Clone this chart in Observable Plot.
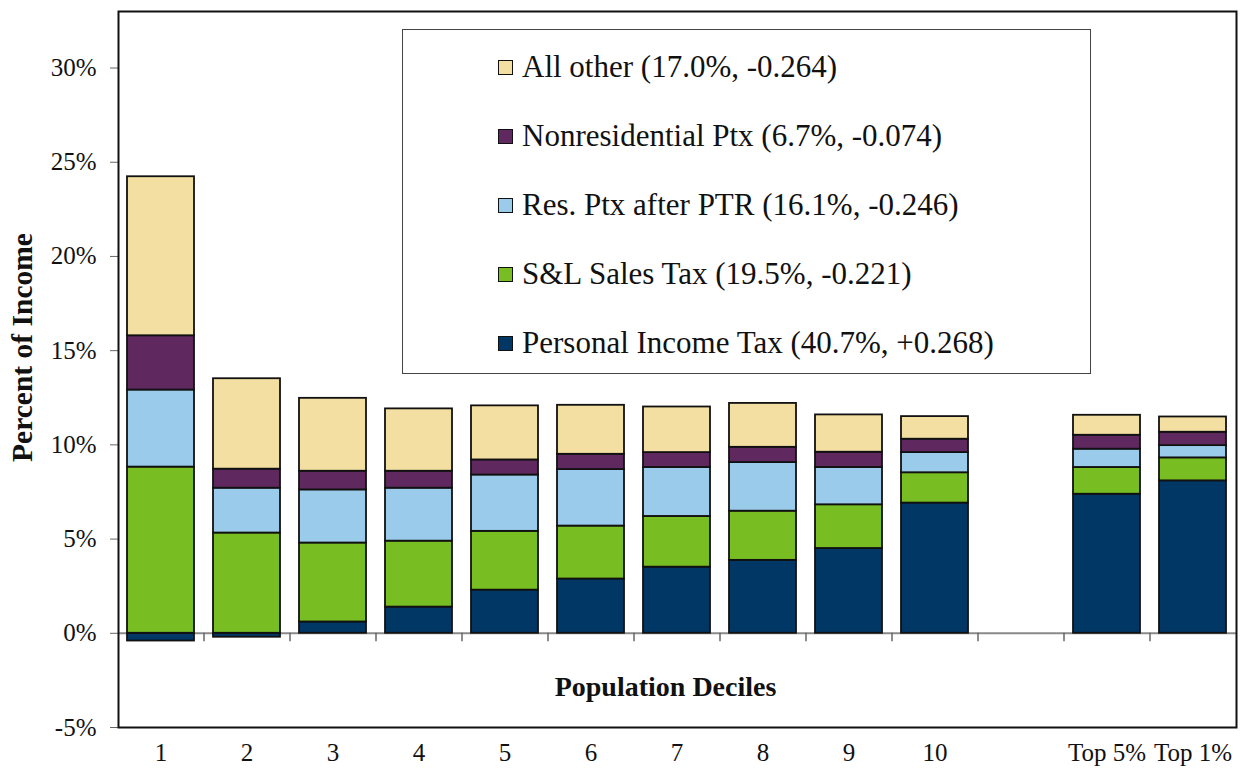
<!DOCTYPE html>
<html>
<head>
<meta charset="utf-8">
<script src="https://cdn.jsdelivr.net/npm/d3@7"></script>
<script src="https://cdn.jsdelivr.net/npm/@observablehq/plot@0.6"></script>
<style>
  html, body { margin: 0; padding: 0; background: #fff; }
  #wrap { position: relative; width: 1243px; height: 772px; font-family: "Liberation Serif", "Times New Roman", serif; }
  #legend { position: absolute; left: 402px; top: 29px; width: 689px; height: 345px; border: 1.5px solid #444; background: #fff; box-sizing: border-box; }
  .item { position: absolute; left: 95px; height: 34px; display: flex; align-items: center; font-size: 31px; color: #111; white-space: nowrap; }
  .sw { width: 13px; height: 13px; border: 1.5px solid #111; margin-right: 9px; flex: none; }
  #chart svg text { font-family: "Liberation Serif", "Times New Roman", serif; }
</style>
</head>
<body>
<div id="wrap">
  <div id="chart"></div>
  <div id="legend"></div>
</div>
<script>
const categories = ["1","2","3","4","5","6","7","8","9","10"," ","Top 5%","Top 1%"];
const series = ["Personal Income Tax","S&L Sales Tax","Res. Ptx after PTR","Nonresidential Ptx","All other"];
const legendLabels = [
  "Personal Income Tax (40.7%, +0.268)",
  "S&L Sales Tax (19.5%, -0.221)",
  "Res. Ptx after PTR (16.1%, -0.246)",
  "Nonresidential Ptx (6.7%, -0.074)",
  "All other (17.0%, -0.264)"
];
const colors = ["#003764","#78BD21","#9BCBEA","#5F2960","#F4DFA3"];

const personalIncomeTax = [-0.41,-0.21,0.60,1.39,2.29,2.88,3.51,3.87,4.50,6.91,null,7.38,8.09];
const salesTax          = [8.82,5.32,4.19,3.50,3.12,2.81,2.69,2.61,2.32,1.61,null,1.42,1.22];
const resPtx            = [4.09,2.38,2.82,2.81,2.99,3.00,2.60,2.58,1.98,1.07,null,0.97,0.65];
const nonresPtx         = [2.88,1.01,0.99,0.90,0.80,0.81,0.79,0.81,0.81,0.71,null,0.74,0.71];
const allOther          = [8.44,4.80,3.87,3.31,2.87,2.60,2.42,2.33,1.98,1.20,null,1.06,0.81];
const yTicks = [-5,0,5,10,15,20,25,30];

const seriesValues = [personalIncomeTax, salesTax, resPtx, nonresPtx, allOther];
const rows = [];
series.forEach((s, i) => {
  categories.forEach((c, j) => {
    const v = seriesValues[i][j];
    if (v != null) rows.push({cat: c, series: s, value: v});
  });
});

const W = 1243, H = 772, mL = 118, mR = 7, mT = 11, mB = 45;
const step = (W - mL - mR) / categories.length;
const font = "'Liberation Serif', 'Times New Roman', serif";

const chart = Plot.plot({
  width: W, height: H,
  marginLeft: mL, marginRight: mR, marginTop: mT, marginBottom: mB,
  style: {fontFamily: font, background: "white", color: "#111", overflow: "visible"},
  x: {domain: categories, paddingInner: 0.22, paddingOuter: 0.11, label: null},
  y: {domain: [-5, 33], label: null},
  color: {domain: series, range: colors},
  marks: [
    Plot.ruleY([0], {stroke: "#8a8a8a", strokeWidth: 2}),
    Plot.ruleX(categories.slice(0, -1), {x: d => d, y1: 0, y2: -0.45, dx: step / 2, stroke: "#666", strokeWidth: 1.5}),
    Plot.barY(rows, Plot.stackY({order: series}, {
      x: "cat", y: "value", z: "series", fill: "series",
      stroke: "#111", strokeWidth: 1.8
    })),
    Plot.axisY({ticks: yTicks, tickFormat: d => d + "%", tickSize: 8, tickPadding: 14, fontSize: 25, stroke: "#666", label: null}),
    Plot.axisX({tickSize: 0, tickPadding: 16, fontSize: 25, tickFormat: d => d.trim(), label: null}),
    Plot.frame({stroke: "#111", strokeWidth: 2}),
    Plot.text(["Percent of Income"], {frameAnchor: "left", textAnchor: "middle", lineAnchor: "middle", rotate: -90, dx: -96, dy: -22, fontSize: 29.5, fontWeight: "bold"}),
    Plot.text(["Population Deciles"], {frameAnchor: "bottom", textAnchor: "middle", lineAnchor: "middle", dx: -12, dy: -40, fontSize: 28, fontWeight: "bold"})
  ]
});
document.getElementById("chart").appendChild(chart);

// Legend (top to bottom: reverse stacking order)
const legend = document.getElementById("legend");
const order = series.map((s, i) => i).reverse();
order.forEach((i, k) => {
  const item = document.createElement("div");
  item.className = "item";
  item.style.top = (20 + k * 69) + "px";
  const sw = document.createElement("span");
  sw.className = "sw";
  sw.style.background = colors[i];
  const t = document.createElement("span");
  t.textContent = legendLabels[i];
  item.appendChild(sw);
  item.appendChild(t);
  legend.appendChild(item);
});
</script>
</body>
</html>
